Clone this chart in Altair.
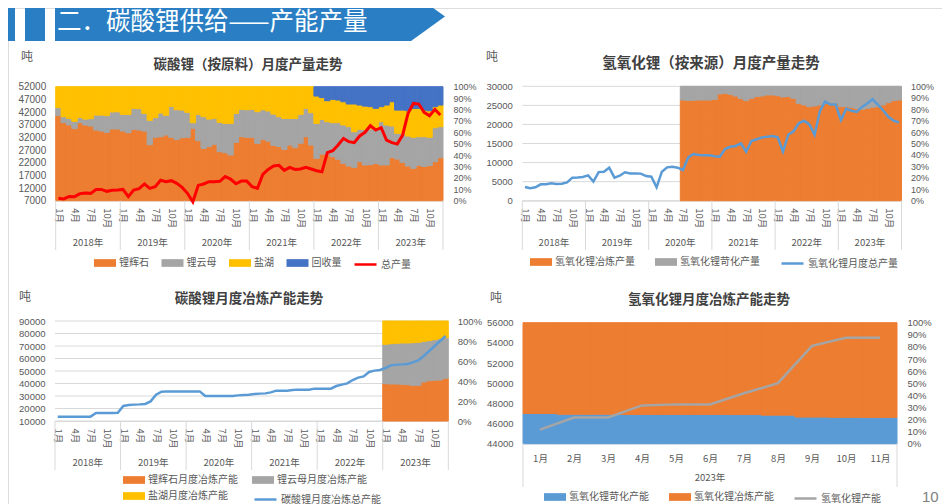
import json
import altair as alt
import pandas as pd

FONT = "Noto Sans CJK SC"
NUM_FONT = "Liberation Sans"
AX = "#595959"
TITLE_C = "#404040"
GRID = "#d9d9d9"
ORANGE = "#ED7D31"
GRAY = "#A5A5A5"
YELLOW = "#FFC000"
BLUE_D = "#4472C4"
BLUE_L = "#5B9BD5"
RED = "#FF0000"
HDR = "#2a7fc4"
W, H = 934, 496

# ---------------- texts ----------------
header_text = "二．碳酸锂供给——产能产量"
unit_text = "吨"
page_no = "10"
titles = ["碳酸锂（按原料）月度产量走势", "氢氧化锂（按来源）月度产量走势",
          "碳酸锂月度冶炼产能走势", "氢氧化锂月度冶炼产能走势"]
month_labels = ["1月", "2月", "3月", "4月", "5月", "6月", "7月", "8月", "9月", "10月", "11月", "12月"]
year_labels = ["2018年", "2019年", "2020年", "2021年", "2022年", "2023年"]
year_2023 = ["2023年"]

# ---------------- chart 1: 碳酸锂（按原料） ----------------
c1_names = ["锂辉石", "锂云母", "盐湖", "回收量"]
c1_spodumene = [74.6, 68.4, 66.4, 63.2, 68.4, 66.4, 65.5, 62.0, 61.1, 59.9, 62.9, 62.9,
                61.1, 59.6, 62.6, 62.0, 61.1, 49.1, 55.6, 56.1, 57.6, 55.6, 53.5, 55.3,
                55.6, 63.5, 52.6, 45.9, 47.4, 49.4, 43.0, 42.1, 40.1, 51.2, 56.1, 55.6,
                55.6, 50.3, 53.8, 52.3, 48.5, 47.4, 45.0, 48.8, 46.5, 50.3, 56.1, 48.8,
                37.1, 40.9, 40.9, 38.6, 36.3, 32.7, 30.4, 29.2, 34.2, 31.3, 31.6, 32.7,
                31.3, 31.3, 38.0, 36.5, 33.6, 30.4, 28.4, 31.0, 30.1, 30.7, 34.2, 37.7]
c1_lepidolite = [7.0, 5.3, 5.8, 6.4, 4.7, 5.2, 6.4, 13.1, 14.0, 14.7, 14.9, 15.1,
                 14.6, 16.1, 18.4, 18.7, 15.5, 21.4, 17.2, 20.8, 17.3, 27.1, 26.3, 24.2,
                 21.9, 4.9, 23.1, 27.8, 24.2, 22.8, 25.7, 25.7, 27.7, 25.4, 24.0, 24.2,
                 24.5, 27.8, 26.0, 26.4, 27.5, 26.3, 27.2, 23.4, 25.7, 25.4, 24.9, 28.4,
                 30.7, 30.4, 28.4, 29.8, 32.1, 33.7, 34.5, 31.3, 28.4, 31.3, 31.3, 31.3,
                 38.0, 35.1, 27.5, 22.6, 25.5, 26.3, 27.2, 25.1, 26.0, 24.9, 29.8, 27.2]
c1_brine = [18.4, 26.3, 27.8, 30.4, 26.9, 28.4, 28.1, 24.9, 24.9, 25.4, 22.2, 22.0,
            24.3, 24.3, 19.0, 19.3, 23.4, 29.5, 27.2, 23.1, 25.1, 17.3, 20.2, 20.5,
            22.5, 31.6, 24.3, 26.3, 28.4, 27.8, 31.3, 32.2, 32.2, 23.4, 19.9, 20.2,
            19.9, 21.9, 20.2, 21.3, 24.0, 26.3, 27.8, 27.8, 27.8, 24.3, 19.0, 22.8,
            24.0, 19.1, 18.4, 20.5, 19.9, 20.4, 19.9, 24.3, 21.3, 20.4, 19.6, 17.0,
            13.2, 17.5, 21.3, 20.4, 20.4, 22.2, 25.4, 24.9, 23.4, 23.3, 18.5, 19.0]
c1_recycle = [8.2, 9.6, 12.3, 11.1, 11.7, 13.2, 15.2, 15.2, 16.1, 17.0, 17.5, 19.0,
              17.5, 16.1, 13.2, 20.5, 20.5, 21.1, 19.0, 19.0, 20.5, 21.1, 17.5, 16.1]
c1_recycle_start = 48
c1_total_name = "总产量"
c1_total = [7950, 7700, 8700, 8600, 9750, 10000, 9900, 11450, 11450, 10700, 11100, 11200,
            11450, 8600, 11200, 11750, 13600, 11850, 12550, 15050, 14500, 14900, 13850, 12250,
            9900, 6600, 13050, 13600, 14500, 14500, 14650, 16500, 15550, 13700, 14750, 14750,
            12550, 11850, 17400, 19350, 20700, 20950, 19000, 20150, 19350, 19500, 20150, 19500,
            18850, 18450, 25950, 26750, 29000, 31600, 30300, 29900, 32550, 34000, 36600, 34900,
            35800, 30950, 29900, 29350, 32900, 41500, 45400, 45150, 41900, 40550, 43050, 40800]
c1_ticks = [7000, 12000, 17000, 22000, 27000, 32000, 37000, 42000, 47000, 52000]
pct10 = [0, 10, 20, 30, 40, 50, 60, 70, 80, 90, 100]
pct20 = [0, 20, 40, 60, 80, 100]

# ---------------- chart 2: 氢氧化锂（按来源） ----------------
c2_names = ["氢氧化锂冶炼产量", "氢氧化锂苛化产量"]
c2_start = 30
c2_smelt = [88.0, 87.6, 87.8, 88.0, 88.0, 88.0, 88.6, 93.3, 93.9, 93.0, 91.5, 89.2,
            87.5, 89.5, 91.0, 91.5, 92.4, 92.4, 91.8, 90.7, 91.0, 89.5, 85.1, 83.7,
            82.2, 82.8, 83.7, 85.1, 85.7, 85.1, 82.2, 82.2, 81.6, 80.5, 79.9, 80.8,
            81.6, 82.2, 83.7, 85.7, 87.5, 88.0]
c2_caustic = [12.0, 12.4, 12.2, 12.0, 12.0, 12.0, 11.4, 6.7, 6.1, 7.0, 8.5, 10.8,
              12.5, 10.5, 9.0, 8.5, 7.6, 7.6, 8.2, 9.3, 9.0, 10.5, 14.9, 16.3,
              17.8, 17.2, 16.3, 14.9, 14.3, 14.9, 17.8, 17.8, 18.4, 19.5, 20.1, 19.2,
              18.4, 17.8, 16.3, 14.3, 12.5, 12.0]
c2_total_name = "氢氧化锂月度总产量"
c2_total = [3600, 3250, 3500, 4300, 4300, 4550, 4350, 4450, 4800, 6050, 6100, 6200,
            6650, 5000, 7500, 7600, 8650, 6050, 6550, 7450, 7150, 7150, 7100, 6450,
            6300, 3500, 7600, 8750, 8900, 8650, 8050, 11350, 12250, 12000, 11900, 11900,
            11650, 11550, 13550, 14150, 14350, 15050, 12850, 15650, 16100, 16600, 16800, 16950,
            16600, 12850, 17300, 18200, 20300, 21000, 20000, 17300, 23500, 26000, 25200, 25200,
            21100, 24100, 23600, 23300, 24600, 25500, 26600, 25200, 23700, 22000, 21000, 20500]
c2_ticks = [0, 5000, 10000, 15000, 20000, 25000, 30000]

# ---------------- chart 3: 碳酸锂冶炼产能 ----------------
c3_names = ["锂辉石月度冶炼产能", "锂云母月度冶炼产能", "盐湖月度冶炼产能"]
c3_start = 60
c3_spodumene = [37.3, 37.0, 37.0, 36.7, 36.3, 35.7, 35.7, 39.0, 40.3, 40.7, 41.0, 42.7]
c3_lepidolite = [39.4, 40.3, 40.7, 41.3, 41.7, 42.6, 43.0, 40.7, 40.0, 40.6, 41.3, 40.6]
c3_brine = [23.3, 22.7, 22.3, 22.0, 22.0, 21.7, 21.3, 20.3, 19.7, 18.7, 17.7, 16.7]
c3_total_name = "碳酸锂月度冶炼总产能"
c3_total = [13500, 13500, 13500, 13500, 13500, 13500, 13500, 16400, 16400, 16400, 16400, 16500,
            22000, 22800, 23100, 23300, 23600, 25700, 31000, 33400, 33700, 33700, 33700, 33700,
            33700, 33700, 33700, 30000, 30000, 30000, 30000, 30000, 30000, 30500, 30800, 31000,
            31600, 31900, 32100, 32900, 34300, 34300, 34300, 34800, 35100, 35100, 35100, 35900,
            35900, 35900, 35900, 38000, 39100, 40100, 42800, 44700, 45700, 49200, 50300, 50800,
            52400, 54500, 55100, 55300, 55600, 56900, 58500, 62000, 66000, 70000, 74000, 78000]
c3_ticks = [10000, 20000, 30000, 40000, 50000, 60000, 70000, 80000, 90000]

# ---------------- chart 4: 氢氧化锂冶炼产能 (2023) ----------------
c4_names = ["氢氧化锂苛化产能", "氢氧化锂冶炼产能"]
c4_caustic = [25.0, 24.3, 24.3, 24.2, 24.2, 24.2, 24.1, 23.6, 22.0, 21.8, 21.7]
c4_smelt = [75.0, 75.7, 75.7, 75.8, 75.8, 75.8, 75.9, 76.4, 78.0, 78.2, 78.3]
c4_total_name = "氢氧化锂产能"
c4_total = [45400, 46600, 46600, 47800, 47900, 47900, 49000, 50000, 53700, 54500, 54500]
c4_ticks = [44000, 46000, 48000, 50000, 52000, 54000, 56000]

# ---------------- helpers ----------------
MONTH_EXPR = "%s[floor(datum.value) %% 12]" % json.dumps(month_labels, ensure_ascii=False)
PCT_EXPR = "datum.value + '%'"
RECT_SYM = "M-1,-0.35L1,-0.35L1,0.35L-1,0.35Z"


def sc(lo, hi, r0, r1):
    return alt.Scale(domain=[lo, hi], range=[r0, r1], nice=False, zero=False)


def y_axis(orient, offset, values, expr=None, pad=9, size=9.5):
    kw = dict(orient=orient, offset=offset, values=values, ticks=False, domain=False, grid=False,
              title=None, labelFontSize=size, labelColor=AX, labelPadding=pad, labelFlush=False,
              labelOverlap=False, labelFont=NUM_FONT, format="d")
    if expr:
        kw["labelExpr"] = expr
    return alt.Axis(**kw)


def x_axis(offset, values, angle, pad):
    return alt.Axis(orient="bottom", offset=offset, values=values, labelExpr=MONTH_EXPR,
                    labelAngle=angle, ticks=False, domain=True, domainColor=GRID, grid=False,
                    title=None, labelFontSize=9.5, labelColor=AX, labelPadding=pad,
                    labelFlush=False, labelOverlap=False, labelFont=FONT)


def legend(x, y, sym, colpad, columns=None, rowpad=None):
    kw = dict(orient="none", legendX=x, legendY=y, direction="horizontal", title=None,
              symbolType=sym, symbolSize=484, labelFontSize=10, labelColor=AX, labelFont=FONT,
              columnPadding=colpad, labelOffset=3, padding=0,
              symbolStrokeWidth=(2.5 if sym == "stroke" else 0))
    if columns:
        kw["columns"] = columns
    if rowpad is not None:
        kw["rowPadding"] = rowpad
    return alt.Legend(**kw)


def stack_layer(names, colors, series, starts, xs, ys, yaxis, leg):
    rows = []
    for k, (name, vals, st) in enumerate(zip(names, series, starts)):
        for j, v in enumerate(vals):
            rows.append({"i": st + j, "k": k, "s": name, "v": v})
    df = pd.DataFrame(rows)
    cs = alt.Scale(domain=names, range=colors)
    return (alt.Chart(df)
            .transform_stack(stack="v", groupby=["i"], as_=["v0", "v1"],
                             sort=[alt.SortField("k", order="ascending")])
            .transform_calculate(i1="datum.i + 1")
            .mark_rect(strokeWidth=1.0)
            .encode(x=alt.X("i:Q", scale=xs, axis=None), x2="i1:Q",
                    y=alt.Y("v0:Q", scale=ys, axis=yaxis), y2="v1:Q",
                    color=alt.Color("s:N", scale=cs, legend=leg),
                    stroke=alt.Stroke("s:N", scale=cs, legend=None)))


def line_layer(name, color, vals, xs, ys, yaxis, xaxis, leg, sw=2.5):
    df = pd.DataFrame({"i": list(range(len(vals))), "v": vals, "s": [name] * len(vals)})
    return (alt.Chart(df)
            .transform_calculate(xc="datum.i + 0.5")
            .mark_line(strokeWidth=sw)
            .encode(x=alt.X("xc:Q", scale=xs, axis=xaxis),
                    y=alt.Y("v:Q", scale=ys, axis=yaxis),
                    color=alt.Color("s:N", scale=alt.Scale(domain=[name], range=[color]), legend=leg)))


def grid_layer(values, ys, x0, x1):
    return (alt.Chart(pd.DataFrame({"g": values}))
            .mark_rule(color=GRID, strokeWidth=1)
            .encode(y=alt.Y("g:Q", scale=ys, axis=None), x=alt.value(x0), x2=alt.value(x1)))


def sep_layer(bounds, xs, y0, y1):
    return (alt.Chart(pd.DataFrame({"b": bounds}))
            .mark_rule(color=GRID, strokeWidth=1)
            .encode(x=alt.X("b:Q", scale=xs, axis=None), y=alt.value(y0), y2=alt.value(y1)))


def year_layer(labels, centers, xs, y):
    return (alt.Chart(pd.DataFrame({"t": labels, "c": centers}))
            .mark_text(fontSize=9.5, color=AX, font=FONT, baseline="middle")
            .encode(x=alt.X("c:Q", scale=xs, axis=None), y=alt.value(y), text="t:N"))


def txt(s, x, y, size, color, weight="normal", align="center", font=FONT):
    return (alt.Chart(pd.DataFrame({"t": [s]}))
            .mark_text(fontSize=size, color=color, fontWeight=weight, align=align,
                       baseline="middle", font=font)
            .encode(x=alt.value(x), y=alt.value(y), text="t:N"))


layers = []

# ---------------- header ----------------
one = pd.DataFrame({"k": [0]})
layers.append(alt.Chart(one).mark_rect(color=HDR).encode(
    x=alt.value(0), x2=alt.value(7), y=alt.value(0), y2=alt.value(33)))
layers.append(alt.Chart(one).mark_rect(color=HDR).encode(
    x=alt.value(17), x2=alt.value(37), y=alt.value(0), y2=alt.value(33)))
BANNER = "M-1,-0.1256L0.826,-0.1256L1,0L0.826,0.1256L-1,0.1256Z"
layers.append(alt.Chart(one).mark_point(shape=BANNER, size=152100, filled=True, color=HDR,
                                        opacity=1, strokeWidth=0).encode(
    x=alt.value(242), y=alt.value(8.5)))
layers.append(txt(header_text, 49, 14.5, 24.5, "white", align="left"))

n72 = len(c1_total)
bounds72 = [12 * j for j in range(len(year_labels) + 1)]
centers72 = [12 * j + 6 for j in range(len(year_labels))]
lab72 = [j + 0.5 for j in range(n72) if j % 3 == 0]

# ---------------- panel 1 ----------------
X0, X1, YB, YT = 47.7, 435.0, 192.7, 78.7
xs = sc(0, n72, X0, X1)
yl = sc(c1_ticks[0], c1_ticks[-1], YB, YT)
yp = sc(0, 100, YB, YT)
layers.append(stack_layer(
    c1_names, [ORANGE, GRAY, YELLOW, BLUE_D],
    [c1_spodumene, c1_lepidolite, c1_brine, c1_recycle], [0, 0, 0, c1_recycle_start],
    xs, yp, y_axis("right", X1 - W, pct10, PCT_EXPR, pad=10, size=9),
    legend(86, 244, RECT_SYM, 12.5)))
layers.append(line_layer(c1_total_name, RED, c1_total, xs, yl,
                         y_axis("left", -X0, c1_ticks, pad=10, size=10),
                         x_axis(YB - H, lab72, 90, 7),
                         legend(345, 244, "stroke", 10), sw=3))
layers.append(sep_layer(bounds72, xs, YB, 242))
layers.append(year_layer(year_labels, centers72, xs, 235))
layers.append(txt(titles[0], 240, 57, 13.5, TITLE_C, "bold"))
layers.append(txt(unit_text, 19, 49, 12, AX))

# ---------------- panel 2 ----------------
X0, X1, YB, YT = 514.3, 893.5, 192.7, 78.3
xs = sc(0, n72, X0, X1)
yl = sc(c2_ticks[0], c2_ticks[-1], YB, YT)
yp = sc(0, 100, YB, YT)
layers.append(grid_layer(c2_ticks, yl, X0, X1))
layers.append(stack_layer(
    c2_names, [ORANGE, GRAY], [c2_smelt, c2_caustic], [c2_start, c2_start],
    xs, yp, y_axis("right", X1 - W, pct10, PCT_EXPR, pad=9, size=9),
    legend(522, 243, RECT_SYM, 20)))
layers.append(line_layer(c2_total_name, BLUE_L, c2_total, xs, yl,
                         y_axis("left", -X0, c2_ticks, pad=10),
                         x_axis(YB - H, lab72, 90, 7),
                         legend(772, 243, "stroke", 10), sw=2.5))
layers.append(sep_layer(bounds72, xs, YB, 242))
layers.append(year_layer(year_labels, centers72, xs, 235))
layers.append(txt(titles[1], 703, 56, 14.5, TITLE_C, "bold"))
layers.append(txt(unit_text, 484, 49, 12, AX))

# ---------------- panel 3 ----------------
X0, X1, YB, YT = 47.0, 440.3, 413.0, 313.0
xs = sc(0, n72, X0, X1)
yl = sc(c3_ticks[0], c3_ticks[-1], YB, YT)
yp = sc(0, 100, YB, YT)
layers.append(grid_layer(c3_ticks, yl, X0, X1))
layers.append(stack_layer(
    c3_names, [ORANGE, GRAY, YELLOW], [c3_spodumene, c3_lepidolite, c3_brine],
    [c3_start, c3_start, c3_start],
    xs, yp, y_axis("right", X1 - W, pct20, PCT_EXPR, pad=9),
    legend(115, 461, RECT_SYM, 14, columns=2, rowpad=-4)))
layers.append(line_layer(c3_total_name, BLUE_L, c3_total, xs, yl,
                         y_axis("left", -X0, c3_ticks, pad=10),
                         x_axis(YB - H, lab72, 90, 7),
                         legend(245, 479, "stroke", 10), sw=2.5))
layers.append(sep_layer(bounds72, xs, YB, 462))
layers.append(year_layer(year_labels, centers72, xs, 455))
layers.append(txt(titles[2], 241, 291, 13.5, TITLE_C, "bold"))
layers.append(txt(unit_text, 17, 289, 12, AX))

# ---------------- panel 4 ----------------
X0, X1, YB, YT = 515.0, 889.0, 435.7, 314.7
n11 = len(c4_total)
xs = sc(0, n11, X0, X1)
yl = sc(c4_ticks[0], c4_ticks[-1], YB, YT)
yp = sc(0, 100, YB, YT)
layers.append(stack_layer(
    c4_names, [BLUE_L, ORANGE], [c4_caustic, c4_smelt], [0, 0],
    xs, yp, y_axis("right", X1 - W, pct10, PCT_EXPR, pad=10),
    legend(536, 478, RECT_SYM, 20)))
layers.append(line_layer(c4_total_name, GRAY, c4_total, xs, yl,
                         y_axis("left", -X0, c4_ticks, pad=10),
                         x_axis(YB - H, [j + 0.5 for j in range(n11)], 0, 10),
                         legend(785, 478, "stroke", 10), sw=2.5))
layers.append(sep_layer([0, n11], xs, YB, 479))
layers.append(year_layer(year_2023, [n11 / 2], xs, 470))
layers.append(txt(titles[3], 701, 292, 13.5, TITLE_C, "bold"))
layers.append(txt(unit_text, 488, 290, 12, AX))

layers.append(txt(page_no, 914, 489, 15, "#7f7f7f", align="left", font=NUM_FONT))

chart = (alt.layer(*layers)
         .properties(width=W, height=H, padding=0, background="white",
                     autosize=alt.AutoSizeParams(type="none"))
         .resolve_scale(x="independent", y="independent", color="independent",
                        stroke="independent")
         .configure_view(stroke=None)
         .configure(font=FONT))

chart.save("out.html", embed_options={"renderer": "svg", "actions": False})
